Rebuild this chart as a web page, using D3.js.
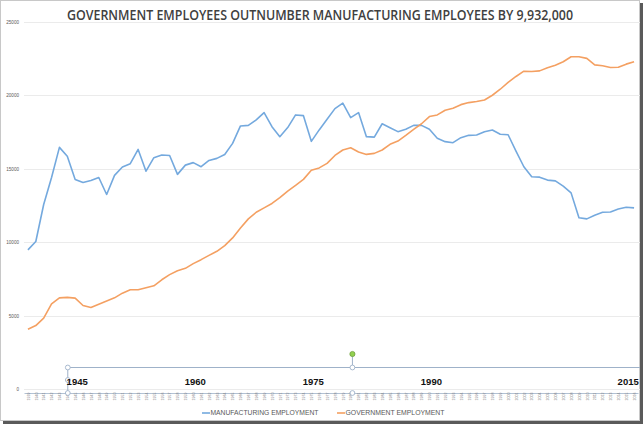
<!DOCTYPE html>
<html>
<head>
<meta charset="utf-8">
<script src="https://cdn.jsdelivr.net/npm/d3@7"></script>
<style>
  body { margin: 0; background: #fff; }
  svg { display: block; }
</style>
</head>
<body>
<div id="chart"></div>
<script>
const years = d3.range(1939, 2017);
const manufacturing = [
    9480, 10050, 12570, 14410, 16460, 15850, 14275, 14070, 14200, 14410, 13250,
    14550, 15120, 15350, 16320, 14840, 15760, 15940, 15910, 14620, 15250,
    15420, 15140, 15570, 15710, 15980, 16730, 17920, 17960, 18330, 18830,
    17870, 17190, 17810, 18670, 18620, 16870, 17650, 18370, 19100, 19470,
    18490, 18830, 17190, 17160, 18070, 17800, 17530, 17690, 17960, 17960,
    17690, 17080, 16850, 16780, 17120, 17280, 17300, 17530, 17640, 17350,
    17320, 16210, 15140, 14460, 14430, 14230, 14180, 13820, 13360, 11660,
    11590, 11840, 12040, 12060, 12260, 12380, 12340
];
const government = [
    4075, 4320, 4830, 5800, 6210, 6240, 6190, 5690, 5550, 5780, 5990,
    6210, 6530, 6760, 6760, 6900, 7030, 7440, 7790, 8060, 8220,
    8540, 8810, 9100, 9380, 9770, 10290, 10970, 11590, 12040, 12340,
    12640, 13030, 13480, 13870, 14280, 14900, 15060, 15370, 15910, 16280,
    16430, 16150, 15980, 16050, 16280, 16670, 16890, 17280, 17690, 18070,
    18560, 18670, 18990, 19130, 19370, 19510, 19580, 19690, 20010, 20420,
    20880, 21290, 21650, 21630, 21670, 21890, 22060, 22290, 22630, 22630,
    22520, 22080, 22020, 21900, 21920, 22130, 22290
];
const yTicks = [0, 5000, 10000, 15000, 20000, 25000];
const timelineYears = [1945, 1960, 1975, 1990, 2015];
const seriesNames = ["MANUFACTURING EMPLOYMENT", "GOVERNMENT EMPLOYMENT"];

const width = 644, height = 425;
const plot = {left: 24, right: 638, top: 22, bottom: 389};
const blue = "#74a9de", orange = "#f4a062", handle = "#9fb2c9";

var svg = d3.select("#chart").append("svg")
    .attr("width", width)
    .attr("height", height);

// frame + shadow
svg.append("rect").attr("x", 3).attr("y", 3).attr("width", 640).attr("height", 421)
    .attr("fill", "#5a5a5a");
svg.append("rect").attr("x", 0.5).attr("y", 0.5).attr("width", 639).attr("height", 420)
    .attr("fill", "#fff").attr("stroke", "#c8c8c8");

var x = d3.scalePoint()
    .domain(years)
    .range([plot.left, plot.right])
    .padding(0.5);
var y = d3.scaleLinear()
    .domain([0, 25000])
    .range([plot.bottom, plot.top]);

// gridlines
svg.append("g")
    .selectAll("line")
    .data(yTicks)
    .enter()
    .append("line")
    .attr("x1", plot.left)
    .attr("x2", plot.right + 2)
    .attr("y1", d => Math.round(y(d)) + 0.5)
    .attr("y2", d => Math.round(y(d)) + 0.5)
    .attr("stroke", "#ebebeb")
    .attr("stroke-width", 1);

// y axis labels
var yAxis = svg.append("g")
    .attr("transform", "translate(19,0)")
    .call(d3.axisLeft(y).tickValues(yTicks).tickSize(0).tickPadding(0).tickFormat(d3.format("d")));
yAxis.select(".domain").remove();
yAxis.selectAll("text")
    .attr("font-family", "Liberation Sans, Arial, sans-serif")
    .attr("font-size", 4.6)
    .attr("fill", "#595959");

// title
svg.append("text")
    .attr("x", 320)
    .attr("y", 20)
    .attr("text-anchor", "middle")
    .attr("font-family", "Open Sans, sans-serif")
    .attr("font-weight", 600)
    .attr("font-size", 14)
    .attr("fill", "#404040")
    .attr("textLength", 506)
    .attr("lengthAdjust", "spacingAndGlyphs")
    .text("GOVERNMENT EMPLOYEES OUTNUMBER MANUFACTURING EMPLOYEES BY 9,932,000");

// lines
var line = d3.line()
    .x((d, i) => x(years[i]))
    .y(d => y(d));

svg.append("path")
    .datum(manufacturing)
    .attr("fill", "none")
    .attr("stroke", blue)
    .attr("stroke-width", 1.6)
    .attr("stroke-linejoin", "round")
    .attr("d", line);

svg.append("path")
    .datum(government)
    .attr("fill", "none")
    .attr("stroke", orange)
    .attr("stroke-width", 1.6)
    .attr("stroke-linejoin", "round")
    .attr("d", line);

// category axis (rotated year labels)
var xAxis = svg.append("g")
    .attr("transform", "translate(0,393)")
    .call(d3.axisBottom(x).tickSize(0).tickPadding(0));
xAxis.select(".domain").attr("stroke", handle).attr("stroke-width", 0.8);
xAxis.selectAll("text")
    .attr("font-family", "Liberation Sans, Arial, sans-serif")
    .attr("font-size", 3.6)
    .attr("fill", "#7a7a7a")
    .attr("text-anchor", "middle")
    .attr("y", 0)
    .attr("dy", "0.35em")
    .attr("transform", "translate(0,3.5) rotate(-90)");

// selection handles over the axis
var sel = svg.append("g");
sel.append("line")
    .attr("x1", x(1944) + 0.5).attr("x2", plot.right + 2)
    .attr("y1", 367.5).attr("y2", 367.5)
    .attr("stroke", handle).attr("stroke-width", 1);
sel.append("line")
    .attr("x1", x(1944) + 0.5).attr("x2", x(1944) + 0.5)
    .attr("y1", 367).attr("y2", 393)
    .attr("stroke", handle).attr("stroke-width", 1);
sel.append("line")
    .attr("x1", x(1982) - 14).attr("x2", x(1982) - 14)
    .attr("y1", 354).attr("y2", 367)
    .attr("stroke", handle).attr("stroke-width", 1);
[[x(1944) + 0.5, 367.5], [x(1944) + 0.5, 380], [x(1944) + 0.5, 393],
 [x(1982) - 14, 367.5], [x(1982) - 14, 393]].forEach(p => {
    sel.append("circle")
        .attr("cx", p[0]).attr("cy", p[1]).attr("r", 2.4)
        .attr("fill", "#fff").attr("stroke", handle).attr("stroke-width", 0.9);
});
sel.append("circle")
    .attr("cx", x(1982) - 14).attr("cy", 354).attr("r", 2.6)
    .attr("fill", "#92d050").attr("stroke", "#6a9a3a").attr("stroke-width", 0.7);

// timeline labels
svg.append("g")
    .selectAll("text")
    .data(timelineYears)
    .enter()
    .append("text")
    .attr("x", d => x(d) + 2)
    .attr("y", 384.5)
    .attr("text-anchor", "middle")
    .attr("font-family", "Liberation Sans, Arial, sans-serif")
    .attr("font-weight", "bold")
    .attr("font-size", 9.5)
    .attr("fill", "#111")
    .text(d => d);

// legend
var legend = svg.append("g").attr("transform", "translate(0,413)");
var legendX = [202, 337];
var legendW = [108, 99];
seriesNames.forEach((name, i) => {
    legend.append("line")
        .attr("x1", legendX[i]).attr("x2", legendX[i] + 8)
        .attr("y1", 0).attr("y2", 0)
        .attr("stroke", i === 0 ? blue : orange)
        .attr("stroke-width", 1.6);
    legend.append("text")
        .attr("x", legendX[i] + 8.5)
        .attr("y", 2.3)
        .attr("font-family", "Liberation Sans, Arial, sans-serif")
        .attr("font-size", 6.5)
        .attr("fill", "#595959")
        .attr("textLength", legendW[i])
        .attr("lengthAdjust", "spacingAndGlyphs")
        .text(name);
});
</script>
</body>
</html>
